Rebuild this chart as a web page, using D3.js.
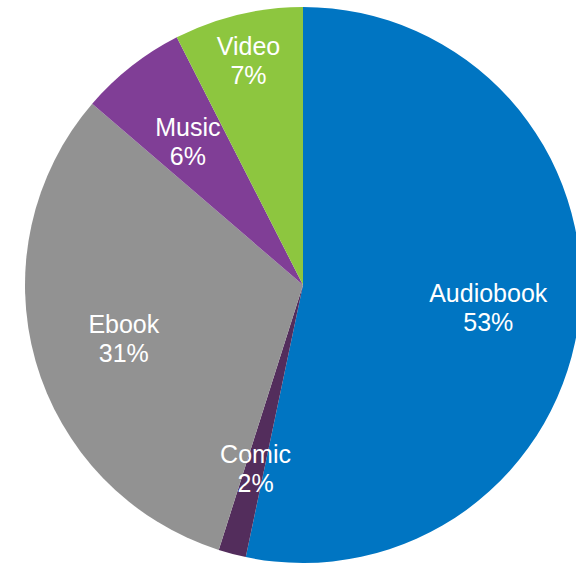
<!DOCTYPE html>
<html>
<head>
<meta charset="utf-8">
<script src="https://cdn.jsdelivr.net/npm/d3@7"></script>
<style>
  html, body { margin: 0; padding: 0; background: #ffffff; }
  svg { display: block; }
</style>
</head>
<body>
<svg id="chart" width="576" height="566"></svg>
<script>
// Data (clockwise from 12 o'clock)
const categories = ["Audiobook", "Comic", "Ebook", "Music", "Video"];
const values = [53.3, 1.6, 31.4, 6.2, 7.5];
const percentLabels = ["53%", "2%", "31%", "6%", "7%"];

const colors = ["#0075c2", "#532d5c", "#929292", "#803e96", "#8dc63f"];

const width = 576, height = 566;
const cx = 303, cy = 285, radius = 278;

const svg = d3.select("#chart");
const g = svg.append("g").attr("transform", `translate(${cx},${cy})`);

const data = categories.map((c, i) => ({ name: c, value: values[i], label: percentLabels[i], color: colors[i] }));

const pie = d3.pie().value(d => d.value).sort(null);
const arcs = pie(data);

const arc = d3.arc().innerRadius(0).outerRadius(radius);

g.selectAll("path.slice")
  .data(arcs)
  .enter().append("path")
  .attr("class", "slice")
  .attr("d", arc)
  .attr("fill", d => d.data.color);

function labelRadius(name) {
  if (name === "Video") return radius * 0.84;
  return radius * 0.67;
}

const labels = g.selectAll("g.label")
  .data(arcs)
  .enter().append("g")
  .attr("class", "label")
  .attr("transform", d => {
    const a = (d.startAngle + d.endAngle) / 2;
    const r = labelRadius(d.data.name);
    return `translate(${r * Math.sin(a)},${-r * Math.cos(a)})`;
  });

labels.append("text")
  .attr("text-anchor", "middle")
  .attr("y", -2.5)
  .attr("fill", "#ffffff")
  .style("font-family", "'Liberation Sans', Arial, Helvetica, sans-serif")
  .style("font-size", "25px")
  .text(d => d.data.name);

labels.append("text")
  .attr("text-anchor", "middle")
  .attr("y", 26.5)
  .attr("fill", "#ffffff")
  .style("font-family", "'Liberation Sans', Arial, Helvetica, sans-serif")
  .style("font-size", "25px")
  .text(d => d.data.label);
</script>
</body>
</html>
